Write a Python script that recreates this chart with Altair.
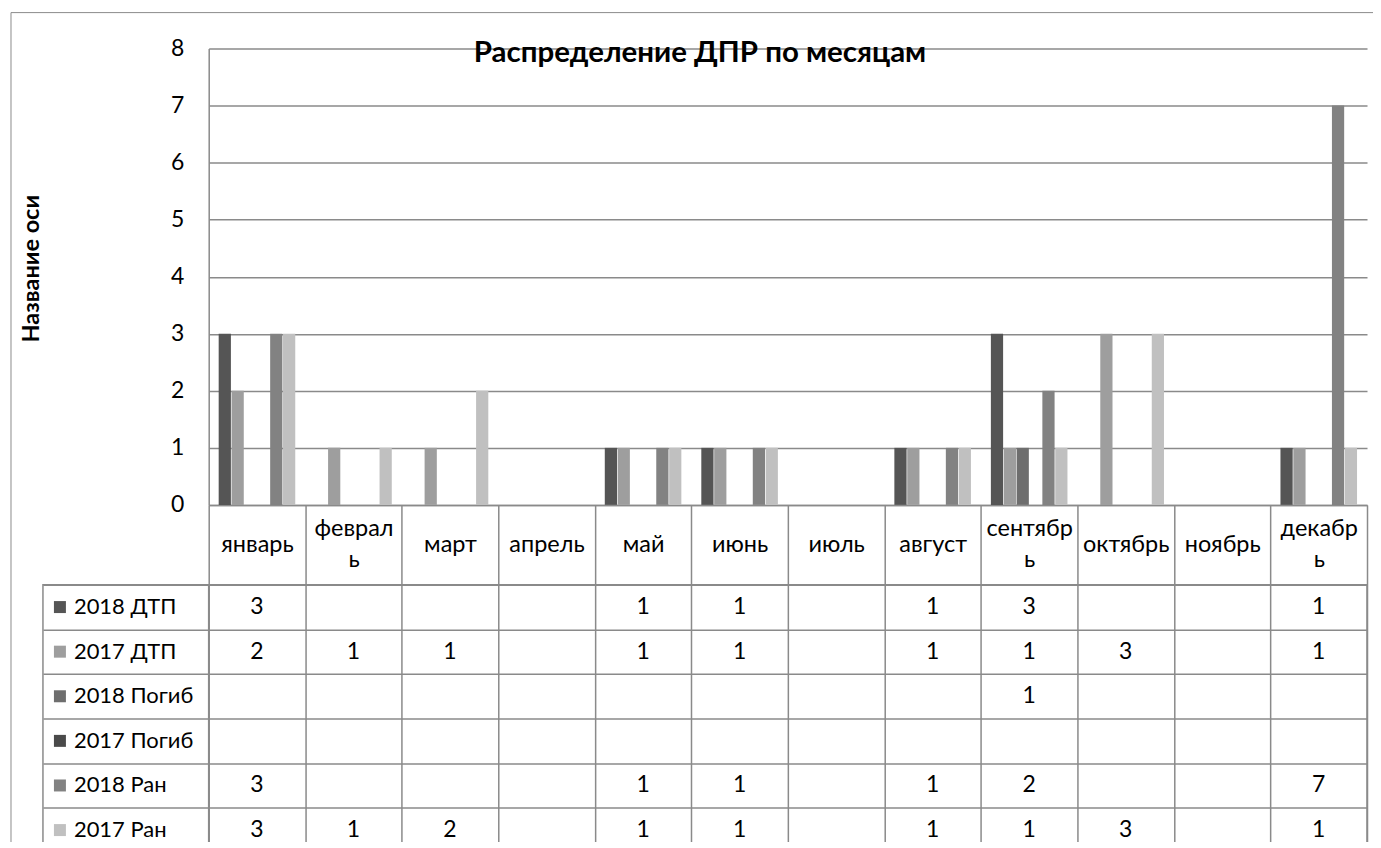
import altair as alt
import pandas as pd

FONT = "Lato"
GRID = "#8a8a8a"

title_text = "Распределение ДПР по месяцам"
y_title = "Название оси"
months = ["январь", "февраль", "март", "апрель", "май", "июнь",
          "июль", "август", "сентябрь", "октябрь", "ноябрь", "декабрь"]
wrapped_months = ["февраль", "сентябрь", "декабрь"]
series = ["2018 ДТП", "2017 ДТП", "2018 Погиб", "2017 Погиб", "2018 Ран", "2017 Ран"]
series_colors = ["#555555", "#9e9e9e", "#6e6e6e", "#4a4a4a", "#828282", "#c0c0c0"]

dtp_2018 = [3, None, None, None, 1, 1, None, 1, 3, None, None, 1]
dtp_2017 = [2, 1, 1, None, 1, 1, None, 1, 1, 3, None, 1]
pogib_2018 = [None, None, None, None, None, None, None, None, 1, None, None, None]
pogib_2017 = [None, None, None, None, None, None, None, None, None, None, None, None]
ran_2018 = [3, None, None, None, 1, 1, None, 1, 2, None, None, 7]
ran_2017 = [3, 1, 2, None, 1, 1, None, 1, 1, 3, None, 1]

values_by_series = [dtp_2018, dtp_2017, pogib_2018, pogib_2017, ran_2018, ran_2017]

rows = []
for s, vals in zip(series, values_by_series):
    for m, v in zip(months, vals):
        if v is not None:
            rows.append({"series": s, "month": m, "value": v})
df = pd.DataFrame(rows)

color_scale = alt.Scale(domain=series, range=series_colors)
month_scale = alt.Scale(domain=months, paddingInner=0, paddingOuter=0)
row_scale = alt.Scale(domain=series, paddingInner=0, paddingOuter=0)

wrap_list = ",".join("'" + w + "'" for w in wrapped_months)
wrap_test = "indexof([" + wrap_list + "], datum.value) >= 0"
label_expr = ("indexof([" + wrap_list + "], datum.label) >= 0 ? "
              "[slice(datum.label, 0, -1), slice(datum.label, -1)] : datum.label")

# ---- spacer cell (holds the outer chart frame) ----
frame = alt.Chart(pd.DataFrame({"k": [0]})).mark_rect(
    filled=False, stroke="#8c8c8c", strokeWidth=1
).encode(
    x=alt.value(-32), y=alt.value(-36), x2=alt.value(1348), y2=alt.value(823)
).properties(width=166, height=457, view=alt.ViewBackground(stroke="transparent"))

# ---- bar chart ----
bar_layer = alt.Chart(df).mark_bar().encode(
    x=alt.X("month:N", sort=months, scale=month_scale,
            axis=alt.Axis(title=None, labelExpr=label_expr, labelAngle=0,
                          tickBand="extent", tickSize=80, tickColor=GRID, tickWidth=1.5,
                          domainColor=GRID, domainWidth=1.5,
                          labelPadding=-40,
                          labelBaseline={"condition": {"test": wrap_test, "value": "line-bottom"},
                                         "value": "middle"},
                          labelLineHeight=31,
                          labelFontSize=23.5, labelColor="black", labelFont=FONT, grid=False)),
    xOffset=alt.XOffset("series:N", sort=series,
                        scale=alt.Scale(domain=series, paddingInner=0.05, paddingOuter=0.775)),
    y=alt.Y("value:Q", scale=alt.Scale(domain=[0, 8]),
            axis=alt.Axis(values=list(range(9)), format="d", grid=True, gridColor=GRID,
                          gridWidth=1.5, ticks=False, labelPadding=25, labelFontSize=23,
                          labelColor="black", labelFont=FONT,
                          domainColor=GRID, domainWidth=1.5,
                          title=y_title, titleFontSize=23.5, titleFont=FONT,
                          titleFontWeight="bold", titleColor="black",
                          titleX=-177, titleY=220, titleBaseline="middle", titleAngle=270)),
    color=alt.Color("series:N", scale=color_scale, legend=None),
)
title_layer = alt.Chart(pd.DataFrame({"t": [title_text]})).mark_text(
    fontSize=29.5, fontWeight="bold", font=FONT, color="black",
    align="center", baseline="alphabetic"
).encode(x=alt.value(492), y=alt.value(13), text="t:N")

bars = alt.layer(bar_layer, title_layer).properties(
    width=1160, height=457, view=alt.ViewBackground(stroke="transparent")
)

# ---- legend column of the data table ----
legend_base = alt.Chart(pd.DataFrame({"series": series})).encode(
    y=alt.Y("series:N", sort=series, scale=row_scale,
            axis=alt.Axis(title=None, labels=False, ticks=False, domain=False, grid=True,
                          tickBand="extent", gridColor=GRID, gridWidth=1.5))
)
legend_sq = legend_base.mark_square(size=144, opacity=1).encode(
    x=alt.value(17), color=alt.Color("series:N", scale=color_scale, legend=None)
)
legend_txt = legend_base.mark_text(align="left", baseline="middle", fontSize=22,
                                   font=FONT, color="black").encode(
    x=alt.value(31), text="series:N"
)
legend = alt.layer(legend_sq, legend_txt).properties(
    width=166, height=268, view=alt.ViewBackground(stroke=GRID, strokeWidth=1.5)
)

# ---- data table ----
table = alt.Chart(df).mark_text(fontSize=23, font=FONT, color="black").encode(
    x=alt.X("month:N", sort=months, scale=month_scale,
            axis=alt.Axis(title=None, labels=False, ticks=False, domain=False, grid=True,
                          tickBand="extent", gridColor=GRID, gridWidth=1.5)),
    y=alt.Y("series:N", sort=series, scale=row_scale,
            axis=alt.Axis(title=None, labels=False, ticks=False, domain=False, grid=True,
                          tickBand="extent", gridColor=GRID, gridWidth=1.5)),
    text=alt.Text("value:Q", format="d"),
).properties(width=1160, height=268, view=alt.ViewBackground(stroke=GRID, strokeWidth=1.5))

chart = alt.concat(
    frame, bars, legend, table, columns=2,
    spacing={"row": 80, "column": 0}, bounds="flush",
    padding={"left": 2, "top": 3, "right": -17, "bottom": -30},
).configure(font=FONT).configure_view(stroke="transparent")

chart.save("out.html", embed_options={"renderer": "svg", "actions": False})
